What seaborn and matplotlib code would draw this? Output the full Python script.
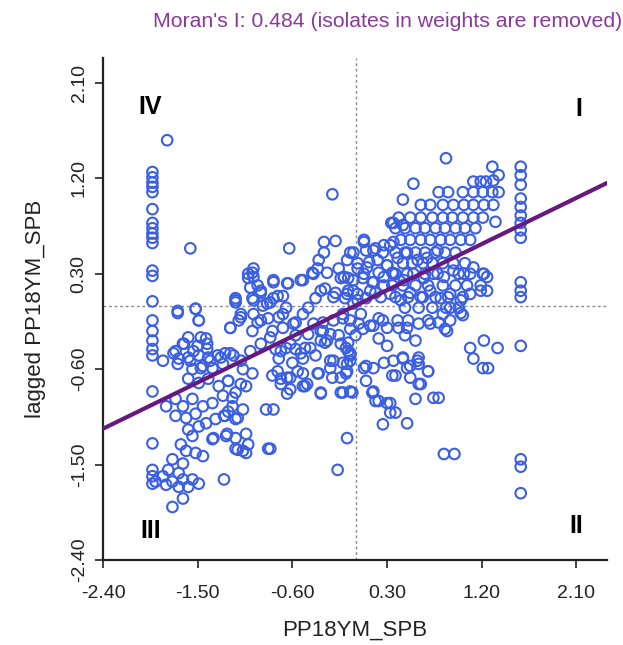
import matplotlib
matplotlib.use("Agg")
import numpy as np
import pandas as pd
import matplotlib.pyplot as plt
import seaborn as sns

MORAN_I = 0.484
TITLE = "Moran's I: 0.484 (isolates in weights are removed)"
X_LABEL = "PP18YM_SPB"
Y_LABEL = "lagged PP18YM_SPB"
TICKS = [-2.40, -1.50, -0.60, 0.30, 1.20, 2.10]

# two vertical stacks of points
left_col_x = -1.93
left_col_y = [1.26, 1.21, 1.16, 1.12, 1.07, 0.91, 0.78, 0.73, 0.68, 0.64, 0.59,
              0.33, 0.28, 0.04, -0.14, -0.24, -0.33, -0.41, -0.47, -0.81,
              -1.30, -1.55, -1.61, -1.68]
right_col_x = 1.57
right_col_y = [1.31, 1.23, 1.14, 1.01, 0.93, 0.85, 0.78, 0.71, 0.64, 0.22, 0.14,
               0.08, -0.38, -1.45, -1.52, -1.77]

# scattered outliers
outliers = [(-1.79, 1.56), (-0.22, 1.05), (-1.57, 0.54), (-0.63, 0.54), (0.86, 1.39),
            (0.55, 1.15), (0.45, 1.00), (1.30, 1.31), (1.36, 1.23), (1.31, 1.18),
            (1.33, 0.79), (0.34, 0.78), (-0.17, -1.55), (-0.08, -1.25), (0.26, -1.12),
            (0.84, -1.40), (0.94, -1.40), (0.49, -1.11), (-0.81, -1.35)]

# quadrant IV / upper-left middle
upper_left = [(-0.98, 0.31), (-0.97, 0.27), (-1.02, 0.26), (-0.93, 0.19), (-0.90, 0.12),
              (-0.98, 0.07), (-0.88, 0.00), (-1.14, 0.05), (-1.52, -0.03), (-1.69, -0.07),
              (-1.09, -0.08), (-0.30, 0.60), (-0.19, 0.61), (-0.30, 0.50), (-0.35, 0.43),
              (-0.36, 0.35), (-0.41, 0.31), (-0.27, 0.31), (-0.16, 0.35), (-0.14, 0.26),
              (-0.05, 0.50), (-0.50, 0.24), (-0.64, 0.21), (-0.78, 0.24), (-0.74, 0.09),
              (-0.81, 0.03), (-0.66, -0.02), (-0.45, -0.02), (-0.38, 0.07), (-0.29, 0.16),
              (-0.19, 0.12), (-0.10, 0.07), (-0.07, 0.26), (-0.07, 0.14), (-1.02, 0.30),
              (-0.97, 0.35), (-1.00, 0.17), (-0.90, 0.14), (-0.78, 0.22), (-0.65, 0.21),
              (-0.52, 0.24), (-0.40, 0.30), (-1.14, 0.07), (-0.97, 0.05), (-0.78, 0.07),
              (-0.69, 0.09), (-0.33, 0.14), (-0.21, 0.08), (-0.11, 0.27), (-0.02, 0.14)]

# quadrant I cluster
upper_right = [(0.08, 0.62), (0.10, 0.52), (0.19, 0.54), (0.26, 0.50), (0.33, 0.57),
               (0.30, 0.38), (0.35, 0.31), (0.02, 0.35), (0.07, 0.26), (0.16, 0.22),
               (0.22, 0.31), (0.13, 0.41), (0.02, 0.11), (0.10, 0.07), (0.19, 0.12),
               (0.27, 0.19), (0.35, 0.19),
               (1.12, 1.17), (1.19, 1.17), (1.24, 1.17),
               (0.79, 1.07), (0.88, 1.07), (1.02, 1.07), (1.12, 1.07), (1.21, 1.07), (1.30, 1.07), (1.36, 1.07),
               (0.62, 0.95), (0.71, 0.95), (0.83, 0.95), (0.93, 0.95), (1.03, 0.95), (1.12, 0.95), (1.22, 0.95), (1.31, 0.95),
               (0.41, 0.83), (0.52, 0.83), (0.62, 0.83), (0.73, 0.83), (0.83, 0.83), (0.92, 0.83), (1.02, 0.83), (1.12, 0.83), (1.21, 0.83),
               (0.38, 0.73), (0.47, 0.73), (0.57, 0.73), (0.66, 0.73), (0.76, 0.73), (0.85, 0.73), (0.95, 0.73), (1.04, 0.73), (1.14, 0.73),
               (0.43, 0.62), (0.52, 0.62), (0.62, 0.62), (0.71, 0.62), (0.81, 0.62), (0.90, 0.62), (1.00, 0.62), (1.09, 0.62),
               (0.38, 0.50), (0.47, 0.50), (0.57, 0.50), (0.66, 0.50), (0.76, 0.50), (0.85, 0.50), (0.95, 0.50),
               (0.45, 0.40), (0.54, 0.40), (0.64, 0.40), (0.73, 0.40), (0.83, 0.40), (0.93, 0.40), (1.04, 0.40),
               (0.38, 0.30), (0.49, 0.30), (0.66, 0.30), (0.78, 0.30), (0.98, 0.30), (1.09, 0.30), (1.21, 0.30),
               (0.45, 0.19), (0.57, 0.19), (0.69, 0.19), (0.83, 0.19), (0.95, 0.19), (1.06, 0.19), (1.19, 0.19),
               (0.38, 0.08), (0.50, 0.08), (0.64, 0.08), (0.76, 0.08), (0.88, 0.08), (1.02, 0.08),
               (0.47, -0.02), (0.60, -0.02), (0.73, -0.02), (0.86, -0.02), (0.98, -0.02),
               (0.08, 0.60), (-0.02, 0.50), (0.17, 0.52), (0.27, 0.57), (0.36, 0.60),
               (0.36, 0.78), (0.45, 0.76),
               (-0.08, 0.43), (0.02, 0.40), (0.11, 0.36), (0.21, 0.43), (0.30, 0.38), (0.40, 0.45),
               (0.49, 0.50), (0.59, 0.43), (0.68, 0.45), (0.78, 0.52),
               (-0.11, 0.27), (-0.02, 0.24), (0.08, 0.30), (0.17, 0.22), (0.27, 0.27), (0.36, 0.30),
               (0.46, 0.24), (0.55, 0.30), (0.65, 0.26), (0.74, 0.30), (0.84, 0.27), (0.93, 0.33),
               (1.03, 0.30), (1.12, 0.36), (1.22, 0.30),
               (-0.08, 0.11), (0.02, 0.05), (0.14, 0.14), (0.24, 0.08), (0.33, 0.11), (0.43, 0.05),
               (0.52, 0.12), (0.62, 0.08), (0.71, 0.14), (0.81, 0.07), (0.90, 0.11), (1.00, 0.05),
               (1.09, 0.11), (1.19, 0.14), (1.25, 0.27), (1.25, 0.14)]

# quadrant III cluster
lower_left = [(-1.69, -0.05), (-1.52, -0.03), (-1.49, -0.14), (-1.14, 0.03), (-1.09, -0.11),
              (-1.19, -0.21), (-0.97, -0.08), (-0.90, -0.14), (-0.84, 0.02), (-0.69, -0.08),
              (-0.59, -0.17), (-0.50, -0.08), (-0.40, -0.17), (-0.31, -0.24), (-0.21, -0.14),
              (-0.12, -0.08), (-0.02, 0.02),
              (-1.73, -0.45), (-1.63, -0.36), (-1.54, -0.43), (-1.47, -0.30), (-1.41, -0.36),
              (-1.69, -0.55), (-1.57, -0.52), (-1.47, -0.59), (-1.38, -0.52), (-1.28, -0.49),
              (-1.19, -0.45), (-1.09, -0.52), (-1.00, -0.43), (-0.90, -0.36), (-0.81, -0.30),
              (-0.71, -0.43), (-0.62, -0.36), (-0.52, -0.45), (-0.43, -0.40), (-0.33, -0.33),
              (-0.24, -0.27), (-0.14, -0.36), (-0.07, -0.43), (-0.05, -0.52), (-0.21, -0.52),
              (-0.74, -0.62), (-0.65, -0.68), (-0.55, -0.62), (-0.46, -0.74), (-0.36, -0.64),
              (-0.33, -0.83), (-0.24, -0.59), (-0.14, -0.68), (-0.14, -0.82), (-0.05, -0.81),
              (-0.71, -0.74), (-0.62, -0.79), (-0.50, -0.76),
              (-1.21, -0.71), (-1.09, -0.74), (-1.17, -0.87), (-1.21, -1.00), (-1.12, -1.06), (-1.25, -1.04),
              (-1.83, -0.52), (-1.49, -0.14), (-1.19, -0.21), (-1.11, -0.14), (-0.98, -0.24), (-0.93, -0.16),
              (-1.71, -0.43), (-1.64, -0.36), (-1.59, -0.30), (-1.50, -0.38), (-1.42, -0.31), (-1.41, -0.41),
              (-1.68, -0.50), (-1.59, -0.49), (-1.49, -0.47), (-1.40, -0.49), (-1.31, -0.47), (-1.24, -0.45),
              (-1.16, -0.47), (-1.55, -0.60), (-1.45, -0.57), (-1.36, -0.59), (-1.26, -0.55), (-1.07, -0.60),
              (-0.98, -0.64), (-1.59, -0.69), (-1.49, -0.73), (-1.40, -0.69), (-1.30, -0.76), (-1.21, -0.71),
              (-1.14, -0.82), (-1.04, -0.76),
              (-1.80, -0.95), (-1.71, -0.88), (-1.64, -0.95), (-1.55, -0.88), (-1.45, -0.95), (-1.36, -0.92),
              (-1.26, -0.85), (-1.17, -0.95), (-1.07, -0.98), (-1.71, -1.04), (-1.61, -1.06), (-1.52, -1.02),
              (-1.42, -1.11), (-1.33, -1.07), (-1.24, -1.04), (-1.14, -1.07),
              (-1.59, -1.17), (-1.49, -1.14), (-1.55, -1.23), (-1.66, -1.31), (-1.61, -1.37), (-1.52, -1.39),
              (-1.45, -1.42), (-1.36, -1.26), (-1.22, -1.21), (-1.14, -1.25), (-1.04, -1.21), (-1.02, -1.31),
              (-1.14, -1.35), (-1.07, -1.37), (-1.35, -1.25), (-1.23, -1.23), (-1.12, -1.36), (-1.04, -1.39),
              (-0.83, -1.35), (-0.85, -0.98), (-0.78, -0.98),
              (-1.74, -1.45), (-1.64, -1.49), (-1.78, -1.55), (-1.68, -1.58), (-1.83, -1.61), (-1.74, -1.66),
              (-1.64, -1.64), (-1.55, -1.64), (-1.90, -1.66), (-1.80, -1.69), (-1.68, -1.71), (-1.59, -1.71),
              (-1.49, -1.68), (-1.25, -1.64), (-1.64, -1.82), (-1.74, -1.90),
              (-0.65, -0.83), (-0.48, -0.76), (-0.33, -0.82), (-0.12, -0.82), (-0.03, -0.82),
              (-0.79, -0.66), (-0.71, -0.69), (-0.62, -0.68), (-0.50, -0.64), (-0.35, -0.64),
              (-0.22, -0.68), (-0.09, -0.64), (-0.73, -0.50), (-0.60, -0.54), (-0.50, -0.50),
              (-0.38, -0.47), (-0.24, -0.52), (-0.12, -0.54), (-0.05, -0.47), (-0.76, -0.41),
              (-0.66, -0.40), (-0.57, -0.41), (-0.48, -0.40), (-0.29, -0.35), (-0.09, -0.40),
              (-0.07, -0.35), (-0.79, -0.24), (-0.69, -0.21), (-0.57, -0.28), (-0.45, -0.27),
              (-0.33, -0.24), (-0.27, -0.33), (-0.16, -0.28), (-0.05, -0.22), (-0.83, -0.12),
              (-0.73, -0.11), (-0.57, -0.16), (-0.31, -0.16), (-0.12, -0.12), (0.03, -0.17)]

# quadrant II cluster
lower_right = [(0.10, -0.57), (0.17, -0.59), (0.10, -0.71), (0.16, -0.82), (0.19, -0.90),
               (0.30, -0.92), (0.33, -1.01), (0.22, -0.31), (0.30, -0.38), (0.35, -0.66),
               (0.07, -0.22), (0.17, -0.19), (0.26, -0.14), (0.00, -0.28),
               (1.22, -0.33), (1.35, -0.40), (1.09, -0.40), (1.12, -0.50), (1.21, -0.59), (1.26, -0.59),
               (0.45, -0.49), (0.60, -0.49), (0.49, -0.59), (0.60, -0.55), (0.69, -0.62), (0.52, -0.68),
               (0.60, -0.74), (0.38, -0.66), (0.57, -0.88), (0.74, -0.87), (0.79, -0.87), (0.38, -1.01),
               (0.50, -0.14), (0.60, -0.17), (0.69, -0.14), (0.79, -0.16), (0.85, -0.22), (0.90, -0.14),
               (1.02, -0.09), (0.41, -0.21), (0.47, -0.28), (0.57, -0.33),
               (-0.05, -0.14), (0.05, -0.08), (0.14, -0.19), (0.22, -0.12), (0.30, -0.21), (0.40, -0.14),
               (0.49, -0.21), (-0.05, -0.45), (-0.08, -0.55), (-0.08, -0.62), (0.08, -0.59), (0.27, -0.54),
               (0.36, -0.52), (0.45, -0.50), (0.52, -0.57), (0.59, -0.52), (0.62, -0.74), (0.69, -0.62),
               (0.17, -0.81), (0.22, -0.90), (0.33, -0.92), (0.87, -0.24), (0.83, -0.08), (0.71, -0.17),
               (0.90, -0.02), (1.00, -0.07)]


def build_frame():
    pts = outliers + upper_left + upper_right + lower_left + lower_right
    xs = [p[0] for p in pts] + [left_col_x] * len(left_col_y) + [right_col_x] * len(right_col_y)
    ys = [p[1] for p in pts] + left_col_y + right_col_y
    return pd.DataFrame({"x": xs, "y": ys})


def main():
    df = build_frame()

    sns.set_style("ticks")
    plt.rcParams["font.family"] = ["Liberation Sans", "DejaVu Sans"]

    fig = plt.figure(figsize=(6.23, 6.45), dpi=100)
    ax = fig.add_axes([0.1653, 0.1318, 0.809, 0.779])

    xlim = (-2.40, 2.39)
    ylim = (-2.40, 2.34)

    # quadrant guides at the mean
    ax.axvline(0, color="#8a8a8a", lw=1.0, ls=(0, (2, 2)), zorder=1)
    ax.axhline(0, color="#8a8a8a", lw=1.0, ls=(0, (2, 2)), zorder=1)

    sns.scatterplot(data=df, x="x", y="y", ax=ax, marker="o", s=58,
                    facecolor="none", edgecolor="#3b5fe3", linewidth=1.5, zorder=2)

    line_x = np.array(xlim)
    ax.plot(line_x, MORAN_I * line_x, color="#661a80", lw=3, zorder=3)

    ax.set_xlim(xlim)
    ax.set_ylim(ylim)
    ax.set_xticks(TICKS)
    ax.set_yticks(TICKS)
    ax.set_xticklabels([f"{t:.2f}" for t in TICKS], fontsize=14)
    ax.set_yticklabels([f"{t:.2f}" for t in TICKS], fontsize=14, rotation=90, va="center")
    ax.tick_params(length=6, width=1.2, color="#222222", labelcolor="#222222")
    ax.tick_params(axis="x", pad=12)
    ax.tick_params(axis="y", pad=5)

    ax.set_xlabel(X_LABEL, fontsize=16, color="#222222", labelpad=13)
    ax.set_ylabel(Y_LABEL, fontsize=16, color="#222222", labelpad=18)
    fig.text(0.998, 0.966, TITLE, fontsize=15.3, color="#8a3a9a", ha="right", va="center")

    sns.despine(ax=ax)
    for side in ["left", "bottom"]:
        ax.spines[side].set_linewidth(1.6)
        ax.spines[side].set_color("#222222")

    quad_style = dict(fontsize=18, fontweight="bold", color="black", ha="center", va="center")
    ax.text(-1.95, 1.87, "IV", **quad_style)
    ax.text(2.12, 1.85, "I", **quad_style)
    ax.text(-1.95, -2.13, "III", **quad_style)
    ax.text(2.10, -2.08, "II", **quad_style)

    fig.savefig("out.png", dpi=100)
    plt.close(fig)


if __name__ == "__main__":
    main()
